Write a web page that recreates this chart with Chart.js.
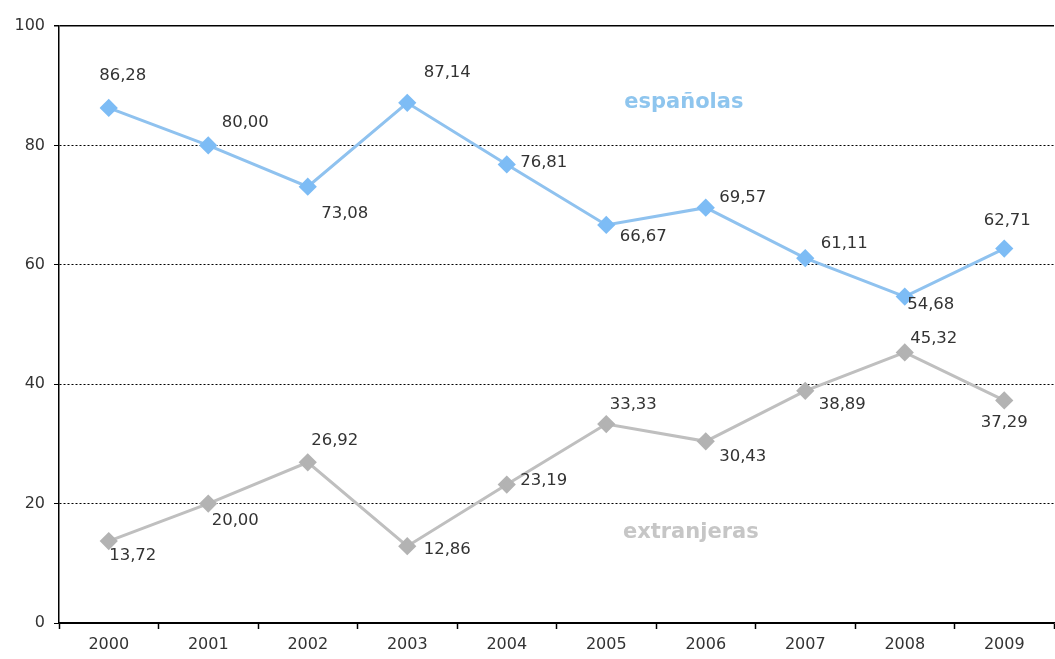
<!DOCTYPE html>
<html>
<head>
<meta charset="utf-8">
<script src="https://cdn.jsdelivr.net/npm/chart.js@4/dist/chart.umd.min.js"></script>
<style>
  html, body { margin: 0; padding: 0; background: #fff; overflow: hidden; }
  #wrap { position: absolute; left: 0; top: 0; width: 1064px; height: 659px; }
  canvas { display: block; }
</style>
</head>
<body>
<div id="wrap"><canvas id="chart" width="1064" height="659" style="width:1064px;height:659px"></canvas></div>
<script>
// Data
const years = ['2000', '2001', '2002', '2003', '2004', '2005', '2006', '2007', '2008', '2009'];
const espanolas = [86.28, 80.00, 73.08, 87.14, 76.81, 66.67, 69.57, 61.11, 54.68, 62.71];
const extranjeras = [13.72, 20.00, 26.92, 12.86, 23.19, 33.33, 30.43, 38.89, 45.32, 37.29];
const yTicks = [0, 20, 40, 60, 80, 100];

// label offsets (px) from each marker, per series
const labelOffsets = [
  [[14, -32], [37, -23], [37, 27], [40, -30], [37, -2], [37, 12], [37, -10], [39, -14], [26, 8], [3, -28]],
  [[24, 15], [27, 17], [27, -22], [40, 3], [37, -4], [27, -19], [37, 15], [37, 14], [29, -14], [0, 22]]
];

const FONT = '"DejaVu Sans", sans-serif';

const fmt = v => v.toFixed(2).replace('.', ',');

const valueLabels = {
  id: 'valueLabels',
  afterDatasetsDraw(chart) {
    const ctx = chart.ctx;
    ctx.save();
    ctx.font = '16.5px ' + FONT;
    ctx.fillStyle = '#333';
    ctx.textAlign = 'center';
    ctx.textBaseline = 'middle';
    chart.data.datasets.forEach((ds, i) => {
      chart.getDatasetMeta(i).data.forEach((pt, j) => {
        const off = labelOffsets[i][j];
        ctx.fillText(fmt(ds.data[j]), pt.x + off[0], pt.y + off[1]);
      });
    });

    // series names
    const xs = chart.scales.x, ys = chart.scales.y;
    ctx.font = 'bold 21px ' + FONT;
    ctx.fillStyle = '#8ec5ee';
    ctx.fillText('españolas', xs.getPixelForValue(5.78), ys.getPixelForValue(87.1));
    ctx.fillStyle = '#c6c6c6';
    ctx.fillText('extranjeras', xs.getPixelForValue(5.85), ys.getPixelForValue(15.2));
    ctx.restore();
  }
};

new Chart(document.getElementById('chart'), {
  type: 'line',
  data: {
    labels: years,
    datasets: [
      {
        label: 'españolas',
        data: espanolas,
        borderColor: '#8fc2ef',
        backgroundColor: '#7dbcf5',
        pointBorderColor: '#7dbcf5',
        borderWidth: 3,
        pointStyle: 'rectRot',
        pointRadius: 7,
        pointHoverRadius: 7,
        tension: 0
      },
      {
        label: 'extranjeras',
        data: extranjeras,
        borderColor: '#bfbfbf',
        backgroundColor: '#b3b3b3',
        pointBorderColor: '#b3b3b3',
        borderWidth: 3,
        pointStyle: 'rectRot',
        pointRadius: 7,
        pointHoverRadius: 7,
        tension: 0
      }
    ]
  },
  options: {
    responsive: false,
    animation: false,
    events: [],
    layout: { padding: { top: 26, right: 0, left: 0, bottom: 0 } },
    plugins: { legend: { display: false }, tooltip: { enabled: false } },
    scales: {
      x: {
        offset: true,
        grid: {
          offset: true,
          drawOnChartArea: false,
          drawTicks: true,
          tickLength: 6,
          tickColor: '#000',
          tickWidth: 1.5
        },
        border: { display: true, color: '#000', width: 1.5 },
        ticks: { color: '#333', font: { family: FONT, size: 16 }, padding: 6, maxRotation: 0 },
        afterFit(scale) { scale.height = 36; }
      },
      y: {
        min: 0,
        max: 100,
        afterBuildTicks(scale) { scale.ticks = yTicks.map(v => ({ value: v })); },
        grid: {
          color: '#000',
          lineWidth: ctx => (ctx.tick && (ctx.tick.value === 100) ? 1.5 : 1),
          drawTicks: true,
          tickLength: 5,
          tickColor: '#000'
        },
        border: {
          display: true,
          color: '#000',
          width: 1.5,
          dash: ctx => (ctx.tick && (ctx.tick.value === 100 || ctx.tick.value === 0) ? [] : [2, 2])
        },
        ticks: { color: '#333', font: { family: FONT, size: 16 }, padding: 9 },
        afterFit(scale) { scale.width = 59; }
      }
    }
  },
  plugins: [valueLabels]
});
</script>
</body>
</html>
